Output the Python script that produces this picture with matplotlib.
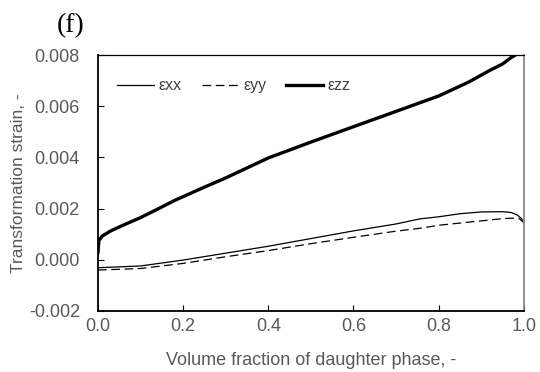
import matplotlib
matplotlib.use("Agg")
import matplotlib.pyplot as plt
import numpy as np

# data
x_zz = [0, 0.002, 0.01, 0.03, 0.06, 0.1, 0.14, 0.18, 0.25, 0.3, 0.4, 0.5, 0.6, 0.7, 0.8, 0.87, 0.92, 0.95, 0.97, 0.98]
e_zz = [0.0003, 0.00075, 0.00093, 0.00113, 0.00136, 0.00165, 0.00198, 0.00232, 0.00284, 0.0032, 0.00398,
        0.0046, 0.0052, 0.0058, 0.0064, 0.00694, 0.0074, 0.00765, 0.0079, 0.0080]

x_xx = [0, 0.1, 0.2, 0.3, 0.4, 0.5, 0.6, 0.7, 0.756, 0.8, 0.85, 0.9, 0.95, 0.97, 0.985, 0.995, 1.0]
e_xx = [-0.00031, -0.00024, -0.00001, 0.00026, 0.00053, 0.00083, 0.00113, 0.0014, 0.0016, 0.00168,
        0.0018, 0.00187, 0.00188, 0.00185, 0.00175, 0.0016, 0.00145]

x_yy = [0, 0.1, 0.2, 0.3, 0.4, 0.5, 0.6, 0.7, 0.756, 0.8, 0.9, 0.95, 0.98, 0.99, 1.0]
e_yy = [-0.0004, -0.00034, -0.00014, 0.00012, 0.00036, 0.00063, 0.00088, 0.00112, 0.00123, 0.00135,
        0.00152, 0.00161, 0.00163, 0.0016, 0.00145]

x_ticks = [0.0, 0.2, 0.4, 0.6, 0.8, 1.0]
y_ticks = [-0.002, 0.000, 0.002, 0.004, 0.006, 0.008]

labels = ["εxx", "εyy", "εzz"]

gray = "#595959"
plt.rcParams['font.family'] = ['Liberation Sans', 'DejaVu Sans']

fig = plt.figure(figsize=(5.4, 3.72), dpi=100)
ax = fig.add_axes([0.1815, 0.164, 0.7885, 0.688])

ax.plot(x_xx, e_xx, color="black", lw=0.9, label=labels[0])
ax.plot(x_yy, e_yy, color="black", lw=0.9, linestyle=(0, (7, 3.6)), label=labels[1])
ax.plot(x_zz, e_zz, color="black", lw=2.4, label=labels[2])

ax.set_xlim(0, 1)
ax.set_ylim(-0.002, 0.008)
ax.set_xticks(x_ticks)
ax.set_xticklabels([f"{v:.1f}" for v in x_ticks])
ax.set_yticks(y_ticks)
ax.set_yticklabels([f"{v:.3f}" for v in y_ticks])

ax.tick_params(axis='both', direction='in', labelsize=13, colors=gray, length=4.5, width=0.8)
ax.tick_params(axis='y', pad=13, color="black")
ax.tick_params(axis='x', pad=5, color="black")

for s in ["left", "bottom"]:
    ax.spines[s].set_linewidth(1.3)
    ax.spines[s].set_color("black")
ax.spines["top"].set_linewidth(0.9)
ax.spines["top"].set_color("black")
ax.spines["right"].set_linewidth(1.2)
ax.spines["right"].set_color("#7f7f7f")

ax.set_xlabel("Volume fraction of daughter phase, -", fontsize=13, color=gray, labelpad=12)
ax.set_ylabel("Transformation strain, -", fontsize=12.5, color=gray, labelpad=2)

leg = ax.legend(loc="upper left", ncol=3, frameon=False, fontsize=11.5, handlelength=2.3,
                handletextpad=0.3, columnspacing=1.25, bbox_to_anchor=(0.011, 0.965))
for t in leg.get_texts():
    t.set_color("#404040")

fig.text(0.105, 0.93, "(f)", fontsize=20, family="Liberation Serif", ha="left", va="center")

fig.savefig("out.png", dpi=100)
